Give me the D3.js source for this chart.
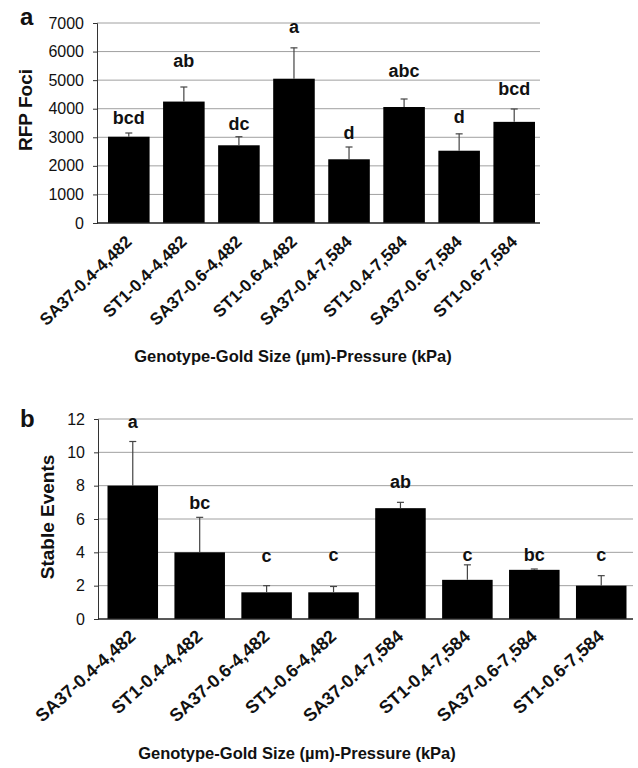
<!DOCTYPE html>
<html>
<head>
<meta charset="utf-8">
<script src="https://cdn.jsdelivr.net/npm/d3@7"></script>
<style>
  html, body { margin: 0; padding: 0; background: #fff; }
  svg { display: block; }
  text { font-family: "Liberation Sans", Arial, sans-serif; fill: #111; }
</style>
</head>
<body>
<svg id="chart" width="638" height="768"></svg>
<script>
// ---- Data ----
const categories = ["SA37-0.4-4,482", "ST1-0.4-4,482", "SA37-0.6-4,482", "ST1-0.6-4,482",
                    "SA37-0.4-7,584", "ST1-0.4-7,584", "SA37-0.6-7,584", "ST1-0.6-7,584"];

const rfpMeans   = [3020, 4250, 2720, 5050, 2230, 4060, 2530, 3540];
const rfpErrors  = [130, 510, 300, 1080, 430, 280, 590, 450];
const rfpLetters = ["bcd", "ab", "dc", "a", "d", "abc", "d", "bcd"];
const rfpLetterAt = [3450, 5450, 3250, 6650, 2950, 5120, 3500, 4480];
const rfpTicks   = [0, 1000, 2000, 3000, 4000, 5000, 6000, 7000];

const stableMeans   = [8.0, 4.0, 1.6, 1.6, 6.65, 2.35, 2.95, 2.0];
const stableErrors  = [2.65, 2.1, 0.4, 0.35, 0.35, 0.9, 0.05, 0.6];
const stableLetters = ["a", "bc", "c", "c", "ab", "c", "bc", "c"];
const stableLetterAt = [11.45, 6.6, 3.45, 3.5, 7.85, 3.5, 3.5, 3.5];
const stableTicks   = [0, 2, 4, 6, 8, 10, 12];

const xTitle = "Genotype-Gold Size (µm)-Pressure (kPa)";

const svg = d3.select("#chart");

function drawPanel(cfg) {
  const g = svg.append("g");
  const x = d3.scaleBand().domain(categories)
    .range([cfg.left, cfg.bandRight]).paddingInner(0.245).paddingOuter(cfg.po);
  const y = d3.scaleLinear().domain([0, cfg.max]).range([cfg.bottom, cfg.top]);

  // gridlines
  g.append("g").selectAll("line").data(cfg.ticks.filter(t => t > 0)).join("line")
    .attr("x1", cfg.left).attr("x2", cfg.gridRight)
    .attr("y1", d => y(d)).attr("y2", d => y(d))
    .attr("stroke", "#a0a0a0").attr("stroke-width", 1);

  // y axis
  const yAxis = d3.axisLeft(y).tickValues(cfg.ticks).tickSize(4).tickPadding(9)
    .tickFormat(d3.format("d"));
  const ya = g.append("g").attr("transform", `translate(${cfg.left},0)`).call(yAxis);
  ya.select(".domain").attr("stroke", "#333").attr("stroke-width", 1);
  ya.selectAll(".tick line").attr("stroke", "#333");
  ya.selectAll(".tick text").attr("font-size", cfg.tickFont).attr("fill", "#111")
    .style("font-family", "'Liberation Sans', Arial, sans-serif");

  // bars
  g.append("g").selectAll("rect").data(cfg.means).join("rect")
    .attr("x", (d, i) => x(categories[i]))
    .attr("width", x.bandwidth())
    .attr("y", d => y(d))
    .attr("height", d => y(0) - y(d))
    .attr("fill", "#000");

  // error bars (upper only)
  const eg = g.append("g").attr("stroke", "#444").attr("stroke-width", 1.2);
  cfg.means.forEach((m, i) => {
    const cx = x(categories[i]) + x.bandwidth() / 2;
    eg.append("line").attr("x1", cx).attr("x2", cx)
      .attr("y1", y(m)).attr("y2", y(m + cfg.errors[i]));
    eg.append("line").attr("x1", cx - 3.5).attr("x2", cx + 3.5)
      .attr("y1", y(m + cfg.errors[i])).attr("y2", y(m + cfg.errors[i]));
  });

  // baseline
  g.append("line").attr("x1", cfg.left).attr("x2", cfg.gridRight)
    .attr("y1", y(0)).attr("y2", y(0)).attr("stroke", "#222").attr("stroke-width", 1.5);

  // significance letters
  g.append("g").selectAll("text").data(cfg.letters).join("text")
    .attr("x", (d, i) => x(categories[i]) + x.bandwidth() / 2)
    .attr("y", (d, i) => y(cfg.letterAt[i]))
    .attr("text-anchor", "middle")
    .attr("font-size", 18).attr("font-weight", "bold")
    .text(d => d);

  // x tick labels
  g.append("g").selectAll("text").data(categories).join("text")
    .attr("transform", d => `translate(${x(d) + x.bandwidth() / 2 + 4},${y(0) + cfg.labelDrop}) rotate(${cfg.labelAngle})`)
    .attr("text-anchor", "end")
    .attr("font-size", cfg.labelFont).attr("font-weight", "bold")
    .text(d => d);

  // y title
  g.append("text")
    .attr("transform", `translate(${cfg.yTitleX},${cfg.yTitleY}) rotate(-90)`)
    .attr("text-anchor", "middle")
    .attr("font-size", 19).attr("font-weight", "bold")
    .text(cfg.yTitle);

  // x title
  g.append("text").attr("x", cfg.xTitleX).attr("y", cfg.xTitleY)
    .attr("text-anchor", "middle")
    .attr("font-size", 16.5).attr("font-weight", "bold")
    .text(xTitle);

  // panel letter
  g.append("text").attr("x", 20).attr("y", cfg.panelY)
    .attr("font-size", 24).attr("font-weight", "bold")
    .text(cfg.panel);
}

drawPanel({
  panel: "a", panelY: 25,
  means: rfpMeans, errors: rfpErrors, letters: rfpLetters, letterAt: rfpLetterAt,
  ticks: rfpTicks, max: 7000,
  left: 97, bandRight: 546, gridRight: 540, po: 0.2,
  top: 23, bottom: 223,
  tickFont: 16, labelFont: 17, labelDrop: 20, labelAngle: -44,
  yTitle: "RFP Foci", yTitleX: 32, yTitleY: 110,
  xTitleX: 293, xTitleY: 362
});

drawPanel({
  panel: "b", panelY: 427,
  means: stableMeans, errors: stableErrors, letters: stableLetters, letterAt: stableLetterAt,
  ticks: stableTicks, max: 12,
  left: 98, bandRight: 636, gridRight: 633, po: 0.142,
  top: 419, bottom: 619,
  tickFont: 16, labelFont: 18, labelDrop: 19, labelAngle: -42,
  yTitle: "Stable Events", yTitleX: 54, yTitleY: 517,
  xTitleX: 297, xTitleY: 759
});
</script>
</body>
</html>
